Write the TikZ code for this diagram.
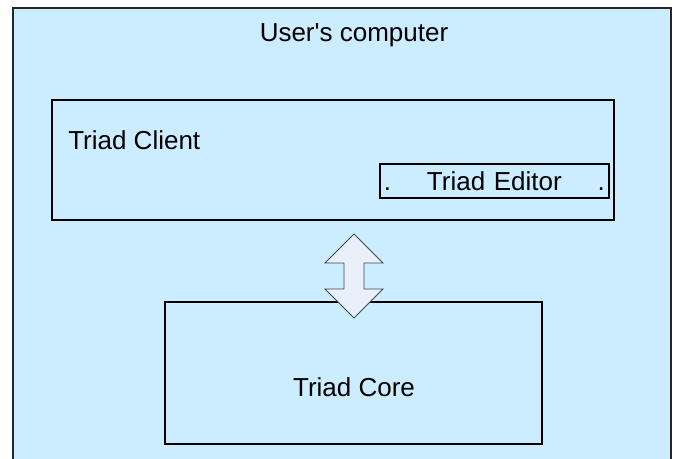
\documentclass[tikz,border=0pt]{standalone}
\usepackage{fontspec}
\setmainfont{Liberation Sans}[Ligatures=TeXOff]
\definecolor{bgblue}{HTML}{CCECFF}
\definecolor{arrowfill}{HTML}{EAF0FA}
\definecolor{arrowline}{HTML}{404850}
\begin{document}
\begin{tikzpicture}[x=0.75pt,y=-0.75pt,
  lbl/.style={font=\fontsize{19.5}{23}\selectfont, inner sep=0pt},
  box/.style={draw=black, line width=1.5pt},
]
\useasboundingbox (0,0) rectangle (683,459);
\fill[white] (0,0) rectangle (683,459);
% outer computer box
\draw[fill=bgblue, draw=black!85, line width=0.8pt] (13,8) rectangle (671,480);
\node[lbl] (usr) at (354,35) {User's computer};
% client box
\draw[box] (52,100) rectangle (614,220);
\node[lbl, anchor=west] (client) at (68,140) {Triad Client};
% editor box
\node[box, line width=1.3pt, minimum width=229*0.75pt, minimum height=34*0.75pt,
      inner sep=0pt, anchor=north west] (editor) at (379,163) {};
\node[lbl, text width=221*0.75pt, align=left, anchor=center] (edtxt) at (editor.center)
  {.\hfill Triad Editor\hfill.};
% core box
\draw[box] (165,302) rectangle (542,444);
\node[lbl] (core) at (354,387) {Triad Core};
% double arrow
\draw[fill=arrowfill, draw=arrowline, line width=0.7pt, line join=miter]
  (354,234) -- (383,263) -- (364,263) -- (364,289) -- (383,289) -- (354,318)
  -- (325,289) -- (344,289) -- (344,263) -- (325,263) -- cycle;
\end{tikzpicture}
\end{document}
